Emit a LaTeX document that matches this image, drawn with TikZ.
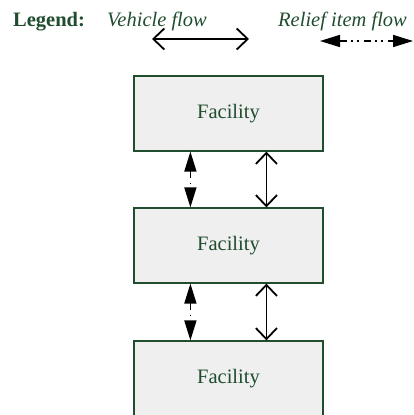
\documentclass[tikz,border=0pt]{standalone}
\usepackage{fontspec}
\setmainfont{Liberation Serif}
\usetikzlibrary{arrows.meta}
\definecolor{deepgreen}{HTML}{1F4D2E}
\definecolor{boxfill}{HTML}{EFEFEF}
\tikzset{
  label text/.style={font=\fontsize{20.5}{24}\selectfont, text=deepgreen, inner sep=0pt},
  facility/.style={draw=deepgreen, line width=1.2pt, fill=boxfill,
    minimum width=189pt, minimum height=75pt, inner sep=0pt,
    font=\fontsize{20.5}{24}\selectfont, text=deepgreen},
  vehicle/.style={line width=1.8pt,
    {Straight Barb[length=11pt,width=21pt,line width=1.8pt]}-{Straight Barb[length=11pt,width=21pt,line width=1.8pt]}},
  relief/.style={line width=1.6pt,
    dash pattern=on 7pt off 4.5pt on 1.5pt off 4.5pt on 1.5pt off 5pt,
    {Triangle[length=20pt,width=12pt]}-{Triangle[length=20pt,width=12pt]}},
}
\begin{document}
\begin{tikzpicture}[x=1pt,y=-1pt]
  \useasboundingbox (0,0) rectangle (413,415);
  \clip (0,0) rectangle (413,415);

  % legend
  \node[label text, font=\fontsize{20.5}{24}\selectfont\bfseries, anchor=base west] (leg) at (13,26) {Legend:};
  \node[label text, font=\fontsize{20.5}{24}\selectfont\itshape, anchor=base west] (vf) at (107,26) {Vehicle flow};
  \node[label text, font=\fontsize{20.5}{24}\selectfont\itshape, anchor=base west] (rf) at (278,26) {Relief item flow};
  \coordinate (va) at (152,39);
  \coordinate (vb) at (249,39);
  \coordinate (ra) at (320,41);
  \coordinate (rb) at (413,41);
  \draw[vehicle] (va) -- (vb);
  \draw[relief] (ra) -- (rb);

  % facilities
  \node[facility] (f1) at (228.5,113.5) {Facility};
  \node[facility] (f2) at (228.5,245.5) {Facility};
  \node[facility] (f3) at (228.5,378.5) {Facility};

  % flows between facilities
  \draw[relief] ([xshift=57pt]f1.south west) -- ([xshift=57pt]f2.north west);
  \draw[vehicle] ([xshift=133pt]f1.south west) -- ([xshift=133pt]f2.north west);
  \draw[relief] ([xshift=57pt]f2.south west) -- ([xshift=57pt]f3.north west);
  \draw[vehicle] ([xshift=133pt]f2.south west) -- ([xshift=133pt]f3.north west);
\end{tikzpicture}
\end{document}
